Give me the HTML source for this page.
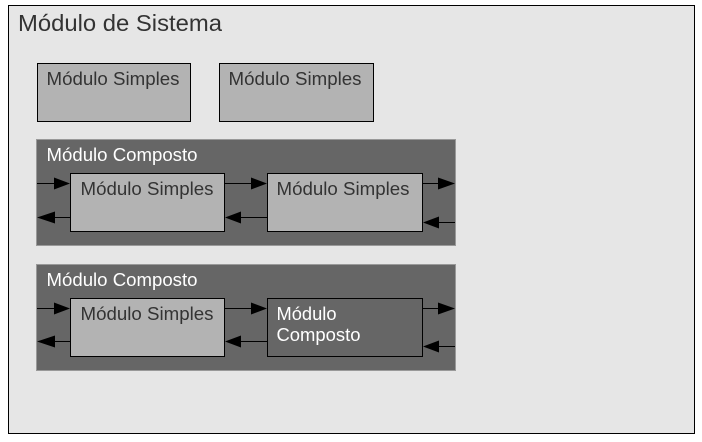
<!DOCTYPE html>
<html><head><meta charset="utf-8"><style>
html,body{margin:0;padding:0;background:#fff;}
svg{display:block;}
text{font-family:"Liberation Sans",sans-serif;}
</style></head><body>
<svg width="702" height="442" viewBox="0 0 702 442" xmlns="http://www.w3.org/2000/svg">
<rect x="8.5" y="5.5" width="686" height="428" fill="#e6e6e6" stroke="#000" stroke-width="1"/>
<text x="18" y="31" font-size="23" fill="#333" textLength="204" lengthAdjust="spacingAndGlyphs">Módulo de Sistema</text>
<rect x="37.5" y="63.5" width="153" height="58" fill="#b3b3b3" stroke="#000"/>
<text x="46.5" y="85" font-size="18" fill="#333" textLength="133" lengthAdjust="spacingAndGlyphs">Módulo Simples</text>
<rect x="219.5" y="63.5" width="154" height="58" fill="#b3b3b3" stroke="#000"/>
<text x="228.5" y="85" font-size="18" fill="#333" textLength="133" lengthAdjust="spacingAndGlyphs">Módulo Simples</text>

<g>
<rect x="36.5" y="139.5" width="419" height="106" fill="#666" stroke="#999"/>
<text x="46.5" y="161" font-size="18" fill="#fff" textLength="151" lengthAdjust="spacingAndGlyphs">Módulo Composto</text>
<rect x="70.5" y="173.5" width="154" height="58" fill="#b3b3b3" stroke="#000"/>
<text x="80.5" y="195" font-size="18" fill="#333" textLength="133" lengthAdjust="spacingAndGlyphs">Módulo Simples</text>
<rect x="267.5" y="173.5" width="155" height="58" fill="#b3b3b3" stroke="#000"/>
<text x="276.5" y="195" font-size="18" fill="#333" textLength="133" lengthAdjust="spacingAndGlyphs">Módulo Simples</text>
<g stroke="#000" stroke-width="1" fill="none">
<line x1="37" y1="183.5" x2="56" y2="183.5"/>
<line x1="225" y1="183.5" x2="252" y2="183.5"/>
<line x1="423" y1="183.5" x2="440" y2="183.5"/>
<line x1="54" y1="217.5" x2="70" y2="217.5"/>
<line x1="241" y1="217.5" x2="267" y2="217.5"/>
<line x1="438" y1="222.5" x2="455" y2="222.5"/>
</g>
<g fill="#000">
<polygon points="70,183.5 54,177.5 54,189.5"/>
<polygon points="267,183.5 251,177.5 251,189.5"/>
<polygon points="455,183.5 438,177.5 438,189.5"/>
<polygon points="37,217.5 55,211.5 55,223.5"/>
<polygon points="225,217.5 241,211.5 241,223.5"/>
<polygon points="423,222.5 439,216.5 439,228.5"/>
</g>
</g>

<g>
<rect x="36.5" y="264.5" width="419" height="106" fill="#666" stroke="#999"/>
<text x="46.5" y="286" font-size="18" fill="#fff" textLength="151" lengthAdjust="spacingAndGlyphs">Módulo Composto</text>
<rect x="70.5" y="298.5" width="154" height="58" fill="#b3b3b3" stroke="#000"/>
<text x="80.5" y="320" font-size="18" fill="#333" textLength="133" lengthAdjust="spacingAndGlyphs">Módulo Simples</text>
<rect x="267.5" y="298.5" width="155" height="58" fill="#666" stroke="#000"/>
<text x="276.5" y="320" font-size="18" fill="#fff" textLength="60" lengthAdjust="spacingAndGlyphs">Módulo</text>
<text x="276.5" y="341" font-size="18" fill="#fff" textLength="84" lengthAdjust="spacingAndGlyphs">Composto</text>
<g stroke="#000" stroke-width="1" fill="none">
<line x1="37" y1="308.5" x2="56" y2="308.5"/>
<line x1="225" y1="308.5" x2="252" y2="308.5"/>
<line x1="423" y1="308.5" x2="440" y2="308.5"/>
<line x1="54" y1="341.5" x2="70" y2="341.5"/>
<line x1="241" y1="341.5" x2="267" y2="341.5"/>
<line x1="438" y1="346.5" x2="455" y2="346.5"/>
</g>
<g fill="#000">
<polygon points="70,308.5 54,302.5 54,314.5"/>
<polygon points="267,308.5 251,302.5 251,314.5"/>
<polygon points="455,308.5 438,302.5 438,314.5"/>
<polygon points="37,341.5 55,335.5 55,347.5"/>
<polygon points="225,341.5 241,335.5 241,347.5"/>
<polygon points="423,346.5 439,340.5 439,352.5"/>
</g>
</g>
</svg>
</body></html>
